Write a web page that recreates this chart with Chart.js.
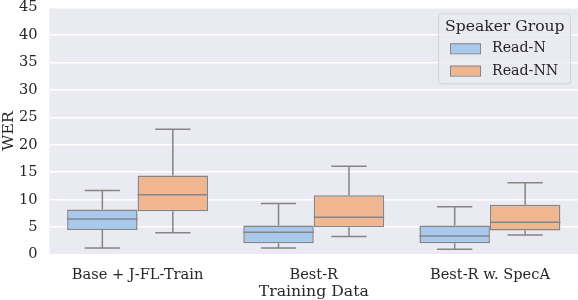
<!DOCTYPE html>
<html>
<head>
<meta charset="utf-8">
<script src="https://cdn.jsdelivr.net/npm/chart.js@4/dist/chart.umd.min.js"></script>
<style>
  html, body { margin: 0; padding: 0; background: #fff; }
  #wrap { width: 578px; height: 300px; }
</style>
</head>
<body>
<div id="wrap"><canvas id="werChart"></canvas></div>
<script>
// WER box plots per training data condition, split by speaker group
const categories = ['Base + J-FL-Train', 'Best-R', 'Best-R w. SpecA'];
const yTicks = [0, 5, 10, 15, 20, 25, 30, 35, 40, 45];

const readNMin = [1.2, 1.2, 1.0];
const readNQ1 = [4.5, 2.1, 2.1];
const readNMed = [6.5, 4.1, 3.4];
const readNQ3 = [8.2, 5.3, 5.3];
const readNMax = [11.7, 9.3, 8.7];

const readNNMin = [4.0, 3.3, 3.6];
const readNNQ1 = [7.9, 5.0, 4.4];
const readNNMed = [10.9, 6.8, 5.9];
const readNNQ3 = [14.4, 10.8, 9.1];
const readNNMax = [22.8, 16.1, 13.1];

const lineGray = '#858585';
const font = 'DejaVu Serif';

function boxes(q1, q3) {
    return q1.map((v, i) => [v, q3[i]]);
}

const stats = [
    { min: readNMin, med: readNMed, max: readNMax, q1: readNQ1, q3: readNQ3 },
    { min: readNNMin, med: readNNMed, max: readNNMax, q1: readNNQ1, q3: readNNQ3 }
];

const panelBg = {
    id: 'panelBg',
    beforeDraw(chart) {
        const a = chart.chartArea;
        const c = chart.ctx;
        c.save();
        c.fillStyle = '#eaeaf2';
        c.fillRect(a.left, a.top, a.right - a.left, a.bottom - a.top);
        c.restore();
    }
};

// whiskers, caps and median lines on top of the floating bars
const whiskers = {
    id: 'whiskers',
    afterDatasetsDraw(chart) {
        const c = chart.ctx;
        const y = chart.scales.y;
        c.save();
        c.strokeStyle = lineGray;
        c.lineWidth = 1.5;
        chart.data.datasets.forEach((ds, di) => {
            const s = stats[di];
            chart.getDatasetMeta(di).data.forEach((bar, i) => {
                const x = bar.x, half = bar.width / 2, cap = bar.width / 4;
                const yMin = y.getPixelForValue(s.min[i]);
                const yMax = y.getPixelForValue(s.max[i]);
                const yQ1 = y.getPixelForValue(s.q1[i]);
                const yQ3 = y.getPixelForValue(s.q3[i]);
                const yMed = y.getPixelForValue(s.med[i]);
                c.beginPath();
                c.moveTo(x, yQ3); c.lineTo(x, yMax);
                c.moveTo(x - cap, yMax); c.lineTo(x + cap, yMax);
                c.moveTo(x, yQ1); c.lineTo(x, yMin);
                c.moveTo(x - cap, yMin); c.lineTo(x + cap, yMin);
                c.moveTo(x - half, yMed); c.lineTo(x + half, yMed);
                c.stroke();
            });
        });
        c.restore();
    }
};

// legend box in upper right of the panel
const boxLegend = {
    id: 'boxLegend',
    afterDraw(chart) {
        const c = chart.ctx;
        const a = chart.chartArea;
        const w = 132, h = 70;
        const x0 = 438, y0 = a.top + 6;
        c.save();
        c.fillStyle = 'rgba(234,234,242,0.8)';
        c.strokeStyle = '#d4d4da';
        c.lineWidth = 1;
        c.beginPath();
        c.roundRect(x0 + 0.5, y0 + 0.5, w, h, 3);
        c.fill();
        c.stroke();
        c.fillStyle = '#262626';
        c.textBaseline = 'middle';
        c.textAlign = 'left';
        c.font = '15.6px "' + font + '"';
        c.fillText('Speaker Group', x0 + 7, y0 + 14);
        c.font = '14.2px "' + font + '"';
        chart.data.datasets.forEach((ds, i) => {
            const ry = y0 + 30 + i * 22.3;
            c.fillStyle = ds.backgroundColor;
            c.fillRect(x0 + 12, ry, 30, 10);
            c.strokeStyle = lineGray;
            c.strokeRect(x0 + 12.5, ry + 0.5, 30, 10);
            c.fillStyle = '#262626';
            c.fillText(ds.label, x0 + 54, ry + 5.5);
        });
        c.restore();
    }
};

new Chart(document.getElementById('werChart'), {
    type: 'bar',
    data: {
        labels: categories,
        datasets: [{
            label: 'Read-N',
            data: boxes(readNQ1, readNQ3),
            backgroundColor: '#a9c9ec',
            borderColor: lineGray,
            borderWidth: 1.5,
            borderSkipped: false
        }, {
            label: 'Read-NN',
            data: boxes(readNNQ1, readNNQ3),
            backgroundColor: '#f0b690',
            borderColor: lineGray,
            borderWidth: 1.5,
            borderSkipped: false
        }]
    },
    options: {
        responsive: true,
        maintainAspectRatio: false,
        animation: false,
        layout: { padding: 0 },
        datasets: { bar: { categoryPercentage: 0.8, barPercentage: 1.0 } },
        plugins: { legend: { display: false }, tooltip: { enabled: false } },
        scales: {
            x: {
                grid: { display: false, drawTicks: false },
                border: { display: false },
                ticks: { color: '#262626', font: { family: font, size: 14.6 }, padding: 12 },
                title: { display: true, text: 'Training Data', color: '#262626',
                         font: { family: font, size: 15.7 }, padding: { top: 0, bottom: -1.5 } },
                afterFit(scale) {
                    scale.height = 45.3;
                    scale.paddingLeft = 0;
                    scale.paddingRight = 0;
                }
            },
            y: {
                min: 0,
                max: 45,
                afterBuildTicks(axis) { axis.ticks = yTicks.map(v => ({ value: v })); },
                grid: { color: '#ffffff', lineWidth: 1.5, drawTicks: false },
                border: { display: false },
                ticks: { color: '#262626', font: { family: font, size: 14.6 }, padding: 12 },
                title: { display: true, text: 'WER', color: '#262626',
                         font: { family: font, size: 15.7 }, padding: { top: 0, bottom: 0 } },
                afterFit(scale) {
                    scale.width = 49.5;
                    scale.paddingTop = 7.3;
                    scale.paddingBottom = 0;
                }
            }
        }
    },
    plugins: [panelBg, whiskers, boxLegend]
});
</script>
</body>
</html>
